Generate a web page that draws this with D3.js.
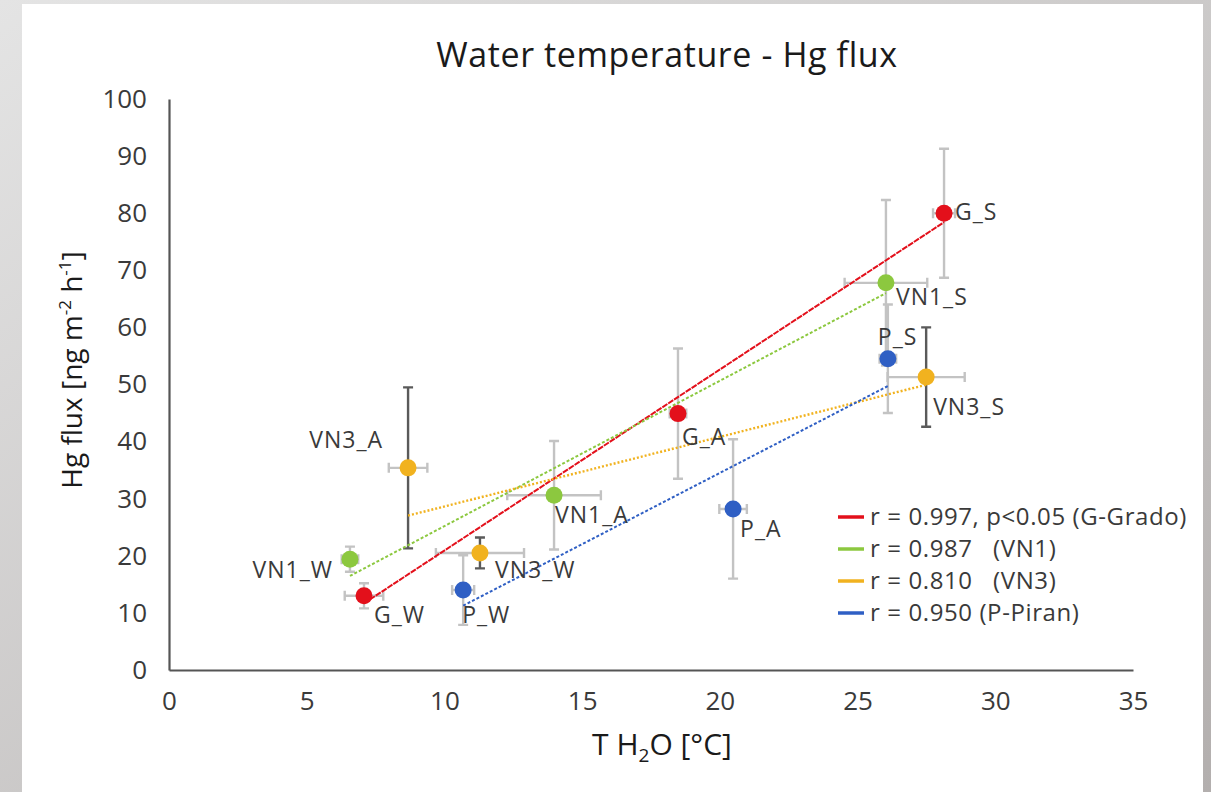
<!DOCTYPE html>
<html lang="en">
<head>
<meta charset="UTF-8">
<title>Water temperature - Hg flux</title>
<script src="https://d3js.org/d3.v7.min.js"></script>
<style>
  body { margin: 0; }
  svg { display: block; }
</style>
</head>
<body>
<div id="chart"></div>
<script>
// ---- data ----
const pointLabels = ["G_W", "G_A", "G_S", "VN1_W", "VN1_A", "VN1_S", "VN3_W", "VN3_A", "VN3_S", "P_W", "P_A", "P_S"];
const pointSeries = ["G", "G", "G", "VN1", "VN1", "VN1", "VN3", "VN3", "VN3", "P", "P", "P"];
const waterTemp = [7.08, 18.48, 28.14, 6.57, 13.98, 26.03, 11.29, 8.68, 27.49, 10.68, 20.48, 26.1];
const hgFlux = [13.0, 44.9, 80.0, 19.4, 30.6, 67.8, 20.5, 35.4, 51.3, 14.0, 28.2, 54.5];
const tempErr = [0.7, 0.3, 0.4, 0.3, 1.7, 1.5, 1.6, 0.7, 1.4, 0.4, 0.5, 0.3];
const fluxErr = [2.2, 11.4, 11.3, 2.2, 9.5, 14.5, 2.7, 14.1, 8.7, 6.1, 12.2, 9.5];

const seriesNames = ["G", "VN1", "VN3", "P"];
const legendLabels = ["r = 0.997, p<0.05 (G-Grado)", "r = 0.987   (VN1)", "r = 0.810   (VN3)", "r = 0.950 (P-Piran)"];
const xTicks = [0, 5, 10, 15, 20, 25, 30, 35];
const yTicks = [0, 10, 20, 30, 40, 50, 60, 70, 80, 90, 100];

// ---- styles / layout ----
const colors = { G: "#e3101b", VN1: "#8cc83f", VN3: "#f1b21f", P: "#2f5fc4" };
const trendDash = { G: "6,1", VN1: "3,2", VN3: "2,2", P: "3,2" };
const labelOffset = {
  G_W: [10, 27, "start"], G_A: [4, 31, "start"], G_S: [11, 7, "start"],
  VN1_W: [-17, 19, "end"], VN1_A: [1, 28, "start"], VN1_S: [10, 22, "start"],
  VN3_W: [15, 25, "start"], VN3_A: [-25, -20, "end"], VN3_S: [7, 38, "start"],
  P_W: [-1, 33, "start"], P_A: [7, 28, "start"], P_S: [-10, -14, "start"]
};
const W = 1211, H = 792;
const plot = { left: 169, right: 1133, top: 99, bottom: 670 };
const font = "'Open Sans', sans-serif";
const textColor = "#3a3a3a";

const svg = d3.select("#chart").append("svg")
  .attr("width", W).attr("height", H);

// grey frame around the white sheet
const defs = svg.append("defs");
const grad = defs.append("linearGradient").attr("id", "frame")
  .attr("x1", 0).attr("y1", 0).attr("x2", 1).attr("y2", 1);
grad.append("stop").attr("offset", "0%").attr("stop-color", "#e4e4e4");
grad.append("stop").attr("offset", "100%").attr("stop-color", "#b3afae");
svg.append("rect").attr("width", W).attr("height", H).attr("fill", "url(#frame)");
svg.append("rect").attr("x", 22).attr("y", 4).attr("width", 1181).attr("height", H - 4).attr("fill", "#fff");

const x = d3.scaleLinear().domain([0, 35]).range([plot.left, plot.right]);
const y = d3.scaleLinear().domain([0, 100]).range([plot.bottom, plot.top]);

// axes
const xAxis = svg.append("g")
  .attr("transform", `translate(0,${plot.bottom})`)
  .call(d3.axisBottom(x).tickValues(xTicks).tickSize(0).tickPadding(28));
const yAxis = svg.append("g")
  .attr("transform", `translate(${plot.left},0)`)
  .call(d3.axisLeft(y).tickValues(yTicks).tickSize(0).tickPadding(22));
[xAxis, yAxis].forEach(a => {
  a.select(".domain").attr("stroke", "#555").attr("stroke-width", 2.2);
  a.selectAll("text").attr("font-family", font).attr("font-size", 26).attr("fill", textColor);
});
xAxis.selectAll("text").attr("dy", "0.45em");

// title and axis titles
svg.append("text")
  .attr("x", 667).attr("y", 67)
  .attr("text-anchor", "middle")
  .attr("font-family", font).attr("font-size", 34).attr("fill", "#1a1a1a")
  .attr("letter-spacing", 0.6)
  .text("Water temperature - Hg flux");

const xt = svg.append("text")
  .attr("x", 662).attr("y", 755)
  .attr("text-anchor", "middle")
  .attr("font-family", font).attr("font-size", 30).attr("fill", "#1a1a1a");
xt.append("tspan").text("T H");
xt.append("tspan").attr("font-size", 19).attr("dy", 7).text("2");
xt.append("tspan").attr("dy", -7).text("O [°C]");

const yt = svg.append("text")
  .attr("transform", "translate(82,370) rotate(-90)")
  .attr("text-anchor", "middle")
  .attr("font-family", font).attr("font-size", 28).attr("fill", "#1a1a1a");
yt.append("tspan").text("Hg flux [ng m");
yt.append("tspan").attr("font-size", 17).attr("dy", -11).text("-2");
yt.append("tspan").attr("dy", 11).text(" h");
yt.append("tspan").attr("font-size", 17).attr("dy", -11).text("-1");
yt.append("tspan").attr("dy", 11).text("]");

const points = pointLabels.map((name, i) => ({
  name, series: pointSeries[i], t: waterTemp[i], f: hgFlux[i], te: tempErr[i], fe: fluxErr[i]
}));

// error bars
const cap = 5;
const eb = svg.append("g").attr("fill", "none").attr("stroke-width", 2.4);
points.forEach(d => {
  const vCol = d.series === "VN3" ? "#5a5a5a" : "#c3c3c3";
  const hCol = "#c3c3c3";
  const cx = x(d.t), cy = y(d.f);
  const y1 = y(d.f + d.fe), y2 = y(d.f - d.fe);
  const x1 = x(d.t - d.te), x2 = x(d.t + d.te);
  eb.append("path").attr("stroke", hCol)
    .attr("d", `M${x1},${cy}H${x2}M${x1},${cy - cap}V${cy + cap}M${x2},${cy - cap}V${cy + cap}`);
  eb.append("path").attr("stroke", vCol)
    .attr("d", `M${cx},${y1}V${y2}M${cx - cap},${y1}H${cx + cap}M${cx - cap},${y2}H${cx + cap}`);
});

// linear trend lines (least squares per site)
const trends = svg.append("g").attr("fill", "none");
seriesNames.forEach(s => {
  const pts = points.filter(d => d.series === s);
  const mx = d3.mean(pts, d => d.t), my = d3.mean(pts, d => d.f);
  const slope = d3.sum(pts, d => (d.t - mx) * (d.f - my)) / d3.sum(pts, d => (d.t - mx) ** 2);
  const [t0, t1] = d3.extent(pts, d => d.t);
  const line = d3.line().x(d => x(d)).y(d => y(my + slope * (d - mx)));
  trends.append("path")
    .attr("d", line([t0, t1]))
    .attr("stroke", colors[s])
    .attr("stroke-width", s === "VN3" ? 2.4 : 2)
    .attr("stroke-dasharray", trendDash[s]);
});

// points
svg.append("g").selectAll("circle")
  .data(points).join("circle")
  .attr("cx", d => x(d.t)).attr("cy", d => y(d.f))
  .attr("r", 8.5)
  .attr("fill", d => colors[d.series]);

// point labels
svg.append("g").selectAll("text")
  .data(points).join("text")
  .attr("x", d => x(d.t) + labelOffset[d.name][0])
  .attr("y", d => y(d.f) + labelOffset[d.name][1])
  .attr("text-anchor", d => labelOffset[d.name][2])
  .attr("font-family", font).attr("font-size", 23).attr("fill", textColor)
  .attr("letter-spacing", 1)
  .text(d => d.name);

// legend
const legend = svg.append("g").attr("transform", "translate(838,517)");
seriesNames.forEach((s, i) => {
  const g = legend.append("g").attr("transform", `translate(0,${i * 32})`);
  g.append("line").attr("x1", 0).attr("x2", 26).attr("y1", 0).attr("y2", 0)
    .attr("stroke", colors[s]).attr("stroke-width", 3.5);
  g.append("text").attr("x", 32).attr("y", 8)
    .attr("font-family", font).attr("font-size", 24).attr("fill", textColor)
    .attr("letter-spacing", 0.6)
    .attr("xml:space", "preserve").style("white-space", "pre")
    .text(legendLabels[i]);
});
</script>
</body>
</html>
